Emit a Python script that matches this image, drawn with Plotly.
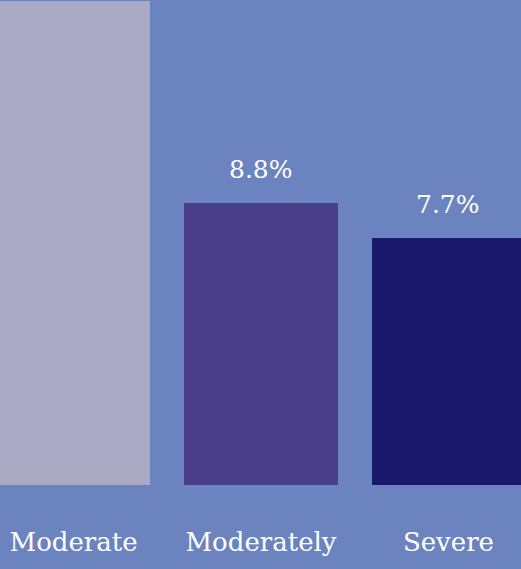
import plotly.graph_objects as go

categories = ["Moderate", "Moderately", "Severe"]
values = [15.1, 8.8, 7.7]
labels = ["15.1%", "8.8%", "7.7%"]
bar_colors = ["#aaaac4", "#4a3e8a", "#1a186c"]

BG = "#6b84c0"
FONT = "DejaVu Serif"
Y_MAX = 15.13

fig = go.Figure()
fig.add_trace(go.Bar(
    x=categories,
    y=values,
    marker=dict(color=bar_colors, line=dict(width=0)),
    width=0.817,
    hoverinfo="skip",
))

for c, v, t in zip(categories, values, labels):
    if v > Y_MAX * 0.85:
        continue  # label lies above the visible area in the reference
    fig.add_annotation(
        x=c, y=v, text=t, showarrow=False,
        yanchor="bottom", yshift=17,
        font=dict(family=FONT, size=25, color="white"),
    )

fig.update_layout(
    width=521, height=569,
    margin=dict(l=0, r=0, t=0, b=84),
    paper_bgcolor=BG, plot_bgcolor=BG,
    showlegend=False,
    bargap=0,
)
fig.update_xaxes(
    range=[-0.3925, 2.387],
    showgrid=False, zeroline=False, showline=False, ticks="",
    tickfont=dict(family=FONT, size=26, color="white"),
    ticklabelstandoff=39,
)
fig.update_yaxes(
    range=[0, Y_MAX],
    showgrid=False, zeroline=False, showline=False,
    showticklabels=False, ticks="",
)

fig.write_html(
    "out.html",
    config={"displayModeBar": False},
    post_script="document.body.style.margin='0';document.body.style.overflow='hidden';",
)
